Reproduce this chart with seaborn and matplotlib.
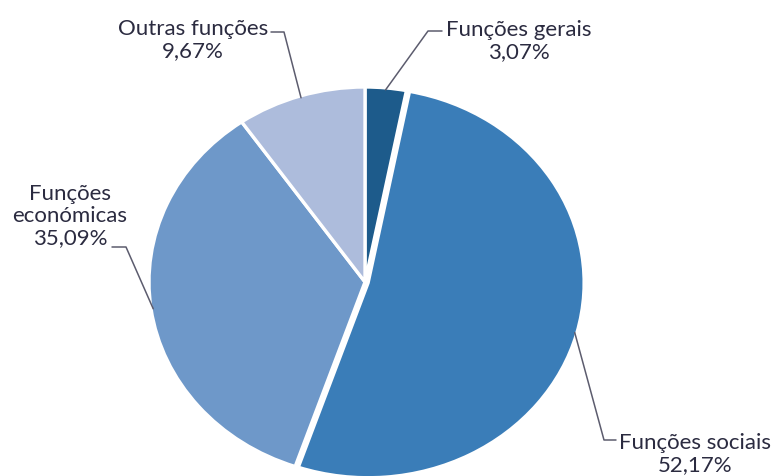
import numpy as np
import seaborn as sns
import matplotlib.pyplot as plt

# data
categories = ['Funções gerais', 'Funções sociais', 'Funções económicas', 'Outras funções']
label_text = ['Funções gerais', 'Funções sociais', 'Funções\neconómicas', 'Outras funções']
shares = [3.07, 52.17, 35.09, 9.67]

# style
colors = sns.color_palette(['#1d5b8b', '#3a7db8', '#6e98c9', '#adbcdc'])
text_color = '#2b2b40'
line_color = '#5c5c6e'

sns.set_style('white')
plt.rcParams['font.family'] = ['Lato', 'DejaVu Sans']

# layout (pixels from top-left of a 775x477 canvas)
W, H = 775, 477
cx, cy, rx, ry = 365, 283, 216, 195
explode = [0.0, 0.015, 0.0, 0.0]
label_pos = [(519, 41), (695, 454), (70, 216), (193, 40)]
elbow_from = [(442, 32), (616, 441), (112, 248), (271, 33)]
elbow_to = [(428, 32), (604, 441), (126, 248), (284, 33)]


def px(x, y):
    return (x - cx) / rx, (cy - y) / ry


fig = plt.figure(figsize=(W / 100, H / 100), dpi=100)
ax = fig.add_axes([0, 0, 1, 1])

wedges, _ = ax.pie(shares, colors=colors, startangle=90, counterclock=False,
                   explode=explode,
                   wedgeprops=dict(edgecolor='white', linewidth=2.4))
ax.set_aspect('auto')
ax.set_xlim(px(0, 0)[0], px(W, 0)[0])
ax.set_ylim(px(0, H)[1], px(0, 0)[1])
ax.axis('off')

for i, w in enumerate(wedges):
    mid = np.deg2rad((w.theta1 + w.theta2) / 2)
    ox, oy = w.center
    wx, wy = ox + 0.99 * np.cos(mid), oy + 0.99 * np.sin(mid)
    p1 = px(*elbow_from[i])
    p2 = px(*elbow_to[i])
    ax.plot([p1[0], p2[0], wx], [p1[1], p2[1], wy], color=line_color, lw=1.1)
    tx, ty = px(*label_pos[i])
    pct = f'{shares[i]:.2f}%'.replace('.', ',')
    ax.text(tx, ty, f'{label_text[i]}\n{pct}', ha='center', va='center',
            fontsize=16, color=text_color, linespacing=1.12)

fig.savefig('out.png', dpi=100)
